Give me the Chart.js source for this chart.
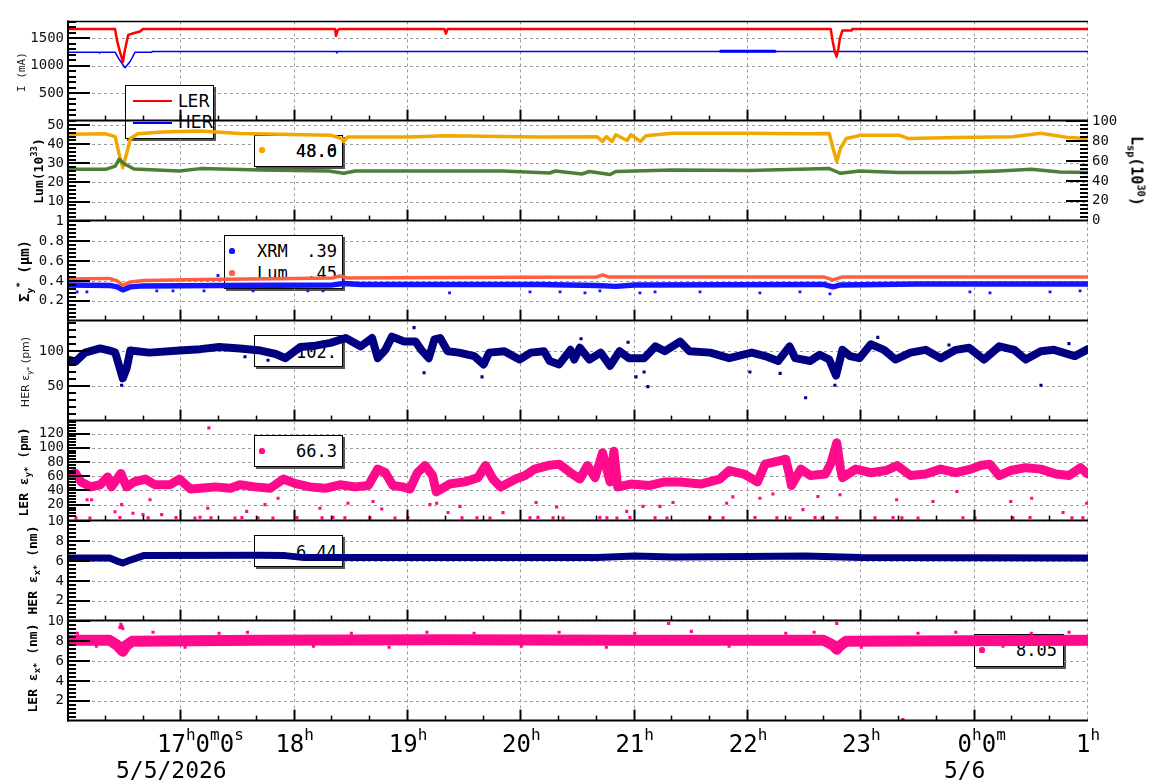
<!DOCTYPE html>
<html><head><meta charset="utf-8">
<script src="https://cdn.jsdelivr.net/npm/chart.js@4.4.1/dist/chart.umd.min.js"></script>
<style>
body{margin:0;background:#fff;}
#wrap{position:relative;width:1160px;height:782px;overflow:hidden;font-family:'DejaVu Sans Mono',monospace;color:#000;}
canvas{position:absolute;left:0;z-index:2;}
.lg{position:absolute;z-index:1;background:#fff;border:1px solid #000;box-shadow:2px 2px 0 #555;box-sizing:border-box;}
.t{position:absolute;line-height:1;white-space:nowrap;z-index:1;color:#000;}
.dot{position:absolute;z-index:1;border-radius:50%;}
.ln{position:absolute;z-index:1;height:1px;}
.ttl{position:absolute;white-space:nowrap;line-height:1;color:#000;z-index:3;}
sup,sub{font-size:0.68em;line-height:0;}
.xl{position:absolute;white-space:nowrap;font-size:24px;line-height:1;z-index:3;}
.xl sup{font-size:16px;vertical-align:12px;}
.dl{position:absolute;white-space:nowrap;font-size:23px;line-height:1;z-index:3;}
</style></head>
<body><div id="wrap"></div>
<script>
// ================= DATA (time in minutes after 16:00 on 5/5/2026) =================
const hourTicks  = [60,120,180,240,300,360,420,480,540];
const hourLabels = ['17h0m0s','18h','19h','20h','21h','22h','23h','0h0m','1h'];
const dateTicks  = [60,480];
const dateLabels = ['5/5/2026','5/6'];

// Panel 1: beam currents (mA)
const lerCurT = [0,24.9,26,27.5,29.1,30.2,31.9,34.6,38.1,39.7,141.4,141.9,142.8,143.5,199.3,200.1,200.9,403.8,404.8,406,406.9,407.8,408.7,410,414.9,415.2,540];
const lerCurV = [1666,1666,1450,1250,1070,1300,1560,1590,1620,1666,1666,1540,1640,1666,1666,1583,1666,1666,1450,1250,1160,1300,1500,1640,1640,1666,1666];
const herCurT = [0,16.2,16.5,16.8,24.9,27,30.2,33,35.5,44.3,44.6,141.9,142.3,142.7,540];
const herCurV = [1245,1245,1232,1245,1245,1120,962,1080,1245,1245,1258,1258,1232,1258,1258];
const herCurBoldT = [345.5,374.3];
const herCurBoldV = [1260,1260];

// Panel 2: luminosity (left, 1e33) and specific luminosity (right, 1e30)
const lumT = [0,20,25,27,29,31,33,37,50,70,91,112,139,145,146,148,180,200,250,280,283,285,288,290,296,298,303,306,320,360,390,403,405,407,409,412,420,440,445,470,500,515,530,540];
const lumV = [45.3,45.5,44,35,27.7,35,43,45.5,46.5,47,45.7,45.3,44.8,43,41.5,43.8,43.8,44.5,43.8,44,41.5,44,41.5,45,42,45,41.5,44.5,45.8,45.8,45.5,45.7,38,31,38,43,44.8,44.8,43,43.5,44,45.8,43.5,43];
const lspT = [0,20,25,27,30,35,59,70,102,138,146,152,230,255,258,272,276,287,290,300,320,360,403,406,409,419,440,470,493,510,525,540];
const lspV = [51.7,51.7,55,61.7,57,52,50,52.4,51,50,47.7,50,50,48,50,47,49.5,46.5,49.5,50,51,50.5,52.4,50,47.7,50,48.4,48.4,50,51.7,49,48.4];

// Panel 3: vertical beam size (um)
const xrmT = [0,22,26,29,33,40,80,140,146,155,250,280,290,300,400,405,409,450,540];
const xrmV = [0.36,0.355,0.34,0.31,0.34,0.35,0.355,0.36,0.375,0.365,0.365,0.355,0.345,0.36,0.365,0.34,0.36,0.37,0.37];
const xrmOutT = [4.8,10,47,55.6,72,79.4,98,127,135,202,244.6,260.5,273.7,281.6,302.8,310.8,334.6,366.3,387.5,403.4,477.5,488.1,519.9,535.8];
const xrmOutV = [0.29,0.29,0.30,0.30,0.30,0.455,0.30,0.30,0.30,0.28,0.29,0.29,0.28,0.30,0.28,0.29,0.29,0.28,0.29,0.27,0.29,0.28,0.29,0.30];
const lumSzT = [0,22,26,29,33,40,70,120,140,144,148,200,280,283,286,400,405,410,540];
const lumSzV = [0.42,0.425,0.40,0.355,0.39,0.405,0.415,0.425,0.43,0.45,0.43,0.435,0.44,0.46,0.44,0.44,0.41,0.44,0.44];

// Panel 4: HER vertical emittance (pm)
const herEyT = [0,4,9,17,22,25,27.5,29,31,33,43,59,70,80,91,102,110,115,123,131,139,147,155,161,164,168,171.5,178,184,187,191,194,197,201,207,215,220,223,231,239,245,252,255,260,266,268,271,276,282,287,292,297,305,311,316,324,329,340,350,362,369,376,382,385,393,398,403,406.6,410,414,419,425,432,438,446,454,462,470,477,485,493,501,507,515,522,533,540];
const herEyV = [88,85,98,104,101,98,75,61,75,101,98,101,103,106,104,101,96,90,106,108,112,119,107,119,90,102,121,114,114,102,90,117,119,100,98,93,81,98,100,88,98,100,86,81,102,88,105,88,98,79,100,90,90,107,100,114,100,98,90,98,93,86,107,90,86,95,88,65,102,93,90,110,102,88,98,102,90,102,105,88,107,102,88,100,102,93,103];
const herEyOutT = [28.4,93.7,105.9,183.2,188.5,219.2,271.6,296.5,300.7,305,307,361,377,390.5,406,428.7,466.4,515.1,529.9];
const herEyOutV = [51,92,87,134,69,63,118,113,63,70,49,70,68,33,51,120,109,51,111];

// Panel 5: LER vertical emittance (pm)
const lerEyT = [0,4,7,12,17,21,23,28,31,35,41,46,54,59,65,70,78,86,91,99,107,114,120,128,136,144,152,159,164,168,172,177,181,185,189,193,195,202,210,217,221,225,229,237,242,247,254,260,266,271,275,279,283,287,289,291,298,308,316,324,335,345,350,358,365,369,377,380,382,383,388,393,401,404,407,409,410,417,425,433,439,446,454,462,470,478,483,488,493,499,507,515,523,530,536,540];
const lerEyV = [62,64,52,45,48,59,45,64,45,52,56,48,48,56,42,43,45,43,48,45,43,56,50,45,43,48,45,47,70,65,47,45,42,65,75,61,38,49,52,58,75,56,45,56,61,70,75,77,65,56,75,58,93,52,95,45,49,47,52,52,49,56,68,63,52,77,82,84,61,47,70,61,63,79,107,70,58,70,65,68,75,61,63,70,65,70,75,77,61,68,72,70,63,61,72,63];
const lerEyOutT = [4.2,11.6,27.5,42.4,57.2,67.2,69.9,75.7,88.4,92.1,100.6,108.5,121.2,134.5,140.3,146.6,159.9,173.1,180,208.6,216.5,223.4,244.6,248.8,256.8,262.1,281.6,285.3,290.6,297.5,310.8,317.1,339.9,346.8,363.7,375.3,382.2,395.5,399.2,407.1,427.2,436.8,441.5,450,473.8,480.2,500.3,509.3,531.5,537.3,
  10.1,12.5,24.9,28.4,34.4,39.7,43.4,49.6,74,94.6,104.3,111.2,133.4,148.2,161.5,166.1,191.6,195.2,201.2,207.5,230.3,247.8,258.7,295.8,304.4,313.4,320.3,348.7,352,366.3,373.2,389.1,397,408.7,438.7,457.9,470.6,499.1,510.2,526.8,539.3,74.6];
const lerEyOutV = [1.5,1.2,2,1.5,1.8,1.2,2.4,1.5,1.3,2,1.5,1.2,1.8,1.5,2.2,1.4,1.5,1.2,2,1.5,1.6,1.3,1.5,2.1,1.4,1.2,1.8,1.5,1.3,2,1.5,1.2,1.6,1.4,2,1.5,1.3,1.8,1.2,1.5,1.4,2,1.5,1.3,1.7,1.2,1.5,1.9,1.4,1.5,
  27,27,10,20,8,6,27,6,15,10.6,20,29,15,22,24.5,14,20,22,9,17.6,8.8,23,16.7,10.6,17.6,17.6,23,22,31,29,35,13,31.5,34,27,24.5,38.5,24.5,29,9,22,128];

// Panel 6: HER horizontal emittance (nm)
const herExT = [0,22,26,29,33,40,100,115,125,280,300,320,360,390,420,540];
const herExV = [6.3,6.3,6.0,5.8,6.1,6.55,6.6,6.55,6.35,6.35,6.5,6.4,6.45,6.5,6.35,6.3];

// Panel 7: LER horizontal emittance (nm)
const lerExT = [0,22,26,29,31,34,100,200,300,400,405,407,409,412,540];
const lerExV = [8.1,8.1,7.6,7.0,7.6,8.0,8.1,8.15,8.1,8.1,7.6,7.2,7.6,8.0,8.1];
const lerExOutT = [27.5,28,28.5,29,318,407,442,5,15,45,62,80,95,130,150,170,190,215,240,260,285,300,330,350,380,395,420,450,470,495,510,530];
const lerExOutV = [9.4,9.7,9.5,9.3,9.8,9.8,0.1,8.8,7.5,8.9,7.4,8.8,8.9,7.5,8.8,7.4,8.9,8.8,7.5,8.9,7.4,8.8,9.0,7.5,8.8,8.9,7.4,8.8,8.9,7.5,8.8,8.9];

// Y-axis tick values / labels
const p1Ticks=[500,1000,1500], p1Labels=['500','1000','1500'];
const p2Ticks=[10,20,30,40,50], p2Labels=['10','20','30','40','50'];
const p2rTicks=[0,20,40,60,80,100], p2rLabels=['0','20','40','60','80','100'];
const p3Ticks=[0.2,0.4,0.6,0.8,1], p3Labels=['0.2','0.4','0.6','0.8','1'];
const p4Ticks=[50,100], p4Labels=['50','100'];
const p5Ticks=[20,40,60,80,100,120], p5Labels=['20','40','60','80','100','120'];
const p6Ticks=[2,4,6,8,10], p6Labels=['2','4','6','8','10'];
const p7Ticks=[2,4,6,8,10], p7Labels=['2','4','6','8','10'];

// Legend texts
const legendNames = ['LER','HER','XRM','Lum'];
const legendNums  = ['48.6','48.0','.39','.45','102.','66.3','6.44','8.05'];

// ================= LAYOUT / DRAWING =================
const wrap=document.getElementById('wrap');
const FONT="'DejaVu Sans Mono'";
const legendRects=[
 {x:125,y:85,w:89,h:54},{x:254,y:135,w:89,h:32},{x:224,y:235,w:119,h:54},
 {x:254,y:335,w:89,h:32},{x:254,y:435,w:89,h:32},{x:254,y:535,w:89,h:32},{x:974,y:634,w:90,h:33}];
const pts=(T,V)=>T.map((t,i)=>({x:t,y:V[i]}));

const frame={
 id:'frame',
 beforeDatasetsDraw(chart,args,o){
  const {ctx,chartArea:a,scales}=chart; const xs=scales.x, ys=scales.y;
  ctx.save();
  ctx.beginPath();
  ctx.rect(a.left,a.top,a.right-a.left,a.bottom-a.top);
  legendRects.forEach(r=>ctx.rect(r.x,r.y-o.top,r.w,r.h));
  ctx.clip('evenodd');
  ctx.strokeStyle='#9c9c9c';ctx.lineWidth=1;ctx.setLineDash([3,3]);
  ctx.beginPath();
  hourTicks.forEach(m=>{const px=Math.round(xs.getPixelForValue(m))-0.5;ctx.moveTo(px,a.top);ctx.lineTo(px,a.bottom);});
  o.grid.forEach(v=>{const py=Math.round(ys.getPixelForValue(v))+0.5;ctx.moveTo(a.left,py);ctx.lineTo(a.right,py);});
  ctx.stroke();
  ctx.restore();
 },
 afterDatasetsDraw(chart,args,o){
  const {ctx,chartArea:a,scales}=chart;
  ctx.save();ctx.strokeStyle='#000';ctx.setLineDash([]);ctx.lineCap='butt';
  const seg=(x1,y1,x2,y2,w)=>{ctx.lineWidth=w;ctx.beginPath();ctx.moveTo(x1,y1);ctx.lineTo(x2,y2);ctx.stroke();};
  const yt=(sc,major,step,side)=>{
    for(let k=Math.ceil(sc.min/step-1e-6);k*step<=sc.max+1e-6;k++){
      const v=k*step;const py=Math.round(sc.getPixelForValue(v));
      if(py<a.top-1||py>a.bottom-2)continue;
      const isMaj=major.some(m=>Math.abs(m-v)<step/10);
      const len=isMaj?22:8;
      if(side==='left')seg(a.left,py,a.left+len,py,2);else seg(a.right,py,a.right-len,py,2);
    }
  };
  yt(scales.y,o.major,o.minor,'left');
  if(o.right)yt(scales.y2,o.right.major,o.right.minor,'right');
  const xs=scales.x;
  for(let m=20;m<540;m+=20){
    const px=Math.round(xs.getPixelForValue(m))-0.5;
    const maj=hourTicks.includes(m);
    seg(px,a.bottom,px,a.bottom-(maj?11:5),maj?2:1.5);
  }
  seg(a.left,a.top-(o.first?1:0),a.left,a.bottom+1,2);
  seg(a.left-1,a.bottom,a.right,a.bottom,2);
  if(o.first)seg(a.left,a.top,a.right,a.top,1.5);
  ctx.restore();
 }
};

function mkY(cfg,pos){
  return {position:pos,min:cfg.min,max:cfg.max,bounds:'data',
    grid:{display:false,drawTicks:false},border:{display:false},
    afterBuildTicks:s=>{s.ticks=cfg.ticks.map(v=>({value:v}));},
    afterFit:s=>{s.width=pos==='left'?68:72;},
    ticks:{autoSkip:false,padding:4,color:'#111',font:{family:'DejaVu Sans Mono',size:14},callback:(v,i)=>cfg.labels[i]}};
}
const lineDs=(data,color,w,axis)=>({data,borderColor:color,backgroundColor:color,borderWidth:w,pointRadius:0,tension:0,fill:false,
  borderJoinStyle:'round',borderCapStyle:'round',clip:0,yAxisID:axis||'y'});
const dotDs=(data,color,r)=>({data,showLine:false,pointRadius:r||2.2,pointStyle:'rect',pointBackgroundColor:color,pointBorderWidth:0,
  backgroundColor:color,borderColor:color,clip:0});

const charts=[];
function panel(top,datasets,y,extra,y2){
  const c=document.createElement('canvas');c.width=1160;c.height=124;c.style.top=(top-12)+'px';wrap.appendChild(c);
  const scales={x:{type:'linear',min:0,max:540,display:false},y:mkY(y,'left')};
  if(y2)scales.y2=mkY(y2,'right');
  const ch=new Chart(c,{type:'line',data:{datasets},
    options:{responsive:false,animation:false,devicePixelRatio:1,events:[],
      layout:{padding:{left:0,right:y2?0:72,top:12,bottom:12}},scales,
      plugins:{legend:{display:false},tooltip:{enabled:false},
        frame:Object.assign({top:top-12,grid:y.ticks,major:y.ticks,minor:y.minor},extra)}},
    plugins:[frame]});
  charts.push(ch);
}

const RED='#ff0000',BLUE='#0000ff',YEL='#f0a800',GRN='#4e7d38',XB='#1414ff',TOM='#ff5f40',NAVY='#000080',PINK='#ff0a8c';

panel(21,[lineDs(pts(lerCurT,lerCurV),RED,2.5),lineDs(pts(herCurT,herCurV),BLUE,1.5),lineDs(pts(herCurBoldT,herCurBoldV),BLUE,3)],
  {min:0,max:1805,ticks:p1Ticks,labels:p1Labels,minor:100},{first:true});
panel(121,[lineDs(pts(lspT,lspV),GRN,3.5,'y2'),lineDs(pts(lumT,lumV),YEL,3.5)],
  {min:0,max:52,ticks:p2Ticks,labels:p2Labels,minor:2},{right:{major:p2rTicks,minor:4}},
  {min:0,max:100,ticks:p2rTicks,labels:p2rLabels});
panel(221,[lineDs(pts(lumSzT,lumSzV),TOM,3.5),dotDs(pts(xrmOutT,xrmOutV),XB,2),lineDs(pts(xrmT,xrmV),XB,5.5)],
  {min:0,max:1,ticks:p3Ticks,labels:p3Labels,minor:0.04},{});
panel(321,[dotDs(pts(herEyOutT,herEyOutV),NAVY,2.2),lineDs(pts(herEyT,herEyV),NAVY,8)],
  {min:0,max:143,ticks:p4Ticks,labels:p4Labels,minor:10},{});
panel(421,[dotDs(pts(lerEyOutT,lerEyOutV),PINK,2.2),lineDs(pts(lerEyT,lerEyV),PINK,9)],
  {min:-2.4,max:137.1,ticks:p5Ticks,labels:p5Labels,minor:4},{});
panel(521,[lineDs(pts(herExT,herExV),NAVY,7)],
  {min:0,max:10,ticks:p6Ticks,labels:p6Labels,minor:0.4},{});
panel(621,[dotDs(pts(lerExOutT,lerExOutV),PINK,2.2),lineDs(pts(lerExT,lerExV),PINK,11)],
  {min:0,max:10,ticks:p7Ticks,labels:p7Labels,minor:0.4},{});

// ---- legends (behind the canvases) ----
function addText(x,cy,html,size,opt={}){
  const s=document.createElement('span');s.className='t';s.innerHTML=html;
  s.style.fontSize=size+'px';s.style.fontFamily=opt.family||FONT;
  s.style.top=(cy-0.482*size)+'px';
  if(opt.right)s.style.right=(1160-x)+'px';else s.style.left=x+'px';
  wrap.appendChild(s);return s;
}
function addDot(cx,cy,r,color){const d=document.createElement('div');d.className='dot';
  d.style.cssText+=`left:${cx-r}px;top:${cy-r}px;width:${2*r}px;height:${2*r}px;background:${color}`;wrap.appendChild(d);}
function addLine(x1,x2,y,color,w){const d=document.createElement('div');d.className='ln';
  d.style.cssText+=`left:${x1}px;top:${y-w/2}px;width:${x2-x1}px;height:${w}px;background:${color}`;wrap.appendChild(d);}
legendRects.forEach(r=>{const d=document.createElement('div');d.className='lg';
  d.style.cssText+=`left:${r.x}px;top:${r.y}px;width:${r.w}px;height:${r.h}px`;wrap.appendChild(d);});

const SANS="'DejaVu Sans'";
addLine(133,172,101,RED,1.3); addText(178,101,legendNames[0],17,{family:SANS});
addLine(133,172,123,BLUE,1.3); addText(178,122.5,legendNames[1],17,{family:SANS});
addDot(262,150,2.6,YEL); addText(337,151,legendNums[0],17,{right:true}); addText(337,151,legendNums[1],17,{right:true});
addDot(232,251,2.6,XB); addText(257,251,legendNames[2],17); addText(337,251,legendNums[2],17,{right:true});
addDot(232,273,2.6,TOM); addText(257,273,legendNames[3],17); addText(337,273,legendNums[3],17,{right:true});
addText(337,352,legendNums[4],17,{right:true});
addDot(262,451,2.6,PINK); addText(337,451,legendNums[5],17,{right:true});
addText(337,552,legendNums[6],17,{right:true});
addDot(982,650,2.6,PINK); addText(1057,650,legendNums[7],17,{right:true});

// ---- axis titles ----
const titles=[
 {h:'I (mA)',x:21,y:72,s:11,b:false,f:FONT,c:'#222'},
 {h:'Lum(10<sup>33</sup>)',x:38,y:171,s:13,b:true,f:FONT},
 {h:'Σ<sub>y</sub><sup>*</sup> (μm)',x:24,y:271,s:14,b:true,f:FONT},
 {h:'HER ε<sub>y*</sub> (pm)',x:25,y:372,s:11,b:false,f:SANS,c:'#222'},
 {h:'LER ε<sub>y*</sub> (pm)',x:23,y:472,s:13,b:true,f:FONT},
 {h:'HER ε<sub>x*</sub> (nm)',x:32,y:570,s:13,b:true,f:FONT},
 {h:'LER ε<sub>x*</sub> (nm)',x:32,y:668,s:13,b:true,f:FONT},
 {h:'L<sub>sp</sub>(10<sup>30</sup>)',x:1136,y:171,s:15,b:true,f:FONT,r:90}
];
titles.forEach(t=>{const d=document.createElement('div');d.className='ttl';d.innerHTML=t.h;
  d.style.fontSize=t.s+'px';d.style.fontFamily=t.f;d.style.fontWeight=t.b?'bold':'normal';if(t.c)d.style.color=t.c;
  d.style.left=t.x+'px';d.style.top=t.y+'px';
  d.style.transform=`translate(-50%,-50%) rotate(${t.r||-90}deg)`;wrap.appendChild(d);});

// ---- x-axis labels ----
const xs=charts[charts.length-1].scales.x;
hourTicks.forEach((m,i)=>{
  const el=document.createElement('div');el.className='xl';
  const parts=[...hourLabels[i].matchAll(/(\d+)([a-z])/g)];
  el.innerHTML=parts.map((p,k)=>`<span class="u${k}">${p[1]}<sup>${p[2]}</sup></span>`).join('');
  wrap.appendChild(el);
  const w0=el.querySelector('.u0').getBoundingClientRect().width;
  const px=xs.getPixelForValue(m);
  el.style.left=(px-w0/2-(parts.length>1?5:0))+'px';el.style.top='732px';
});
dateTicks.forEach((m,i)=>{
  const el=document.createElement('div');el.className='dl';el.textContent=dateLabels[i];wrap.appendChild(el);
  const w=el.getBoundingClientRect().width;const px=xs.getPixelForValue(m);
  el.style.left=(px-10-w/2)+'px';el.style.top='758.5px';
});
</script></body></html>
